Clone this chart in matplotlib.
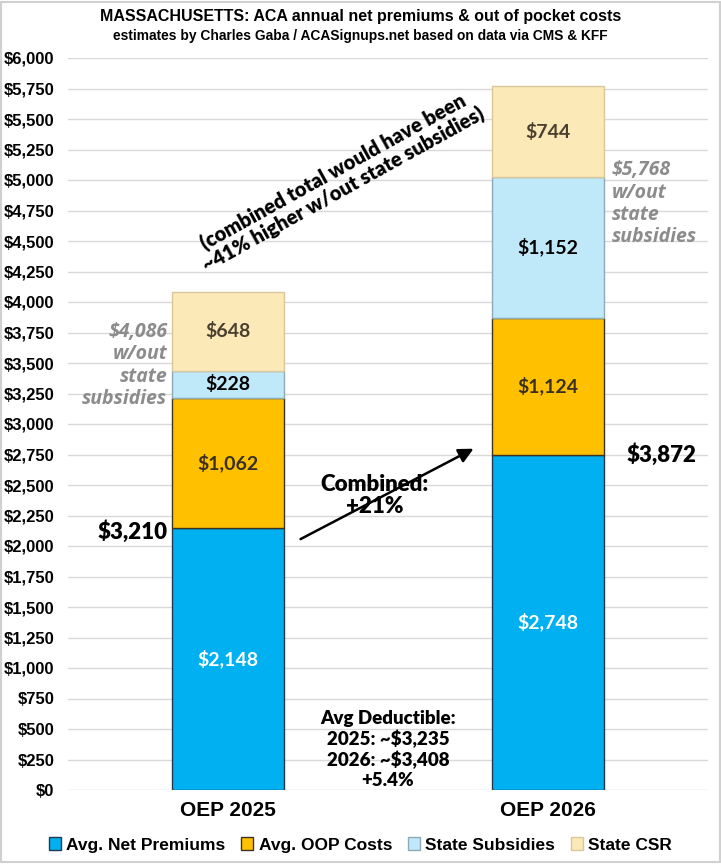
import numpy as np
import matplotlib.pyplot as plt
from matplotlib.patches import Patch
from matplotlib.ticker import FuncFormatter, MultipleLocator
from matplotlib import font_manager

periods = ['OEP 2025', 'OEP 2026']
net_premiums = [2148, 2748]
oop_costs = [1062, 1124]
state_subsidies = [228, 1152]
state_csr = [648, 744]
combined = [3210, 3872]
without_state = [4086, 5768]
series_names = ['Avg. Net Premiums', 'Avg. OOP Costs', 'State Subsidies', 'State CSR']

names = {f.name for f in font_manager.fontManager.ttflist}
narrow = 'Liberation Sans Narrow' if 'Liberation Sans Narrow' in names else 'Liberation Sans'
label_font = 'Lato'
note_font = 'Lato'

fig = plt.figure(figsize=(7.21, 8.64), dpi=100)
ax = fig.add_axes([68/721, 1-790/864, 640/721, 732/864])

x = np.arange(len(periods))
w = 0.353
colors = ['#00B0F0', '#FFC000', '#BFE8F9', '#FCE9B8']
edges = ['#1F3B4D', '#3D3320', '#8FA9B5', '#D8C79A']
bottom = np.zeros(2)
stacks = [net_premiums, oop_costs, state_subsidies, state_csr]
txtcol = ['white', '#3A3020', 'black', '#4A4030']
for vals, c, ec, tc in zip(stacks, colors, edges, txtcol):
    vals = np.array(vals, dtype=float)
    ax.bar(x, vals, w, bottom=bottom, color=c, edgecolor=ec, linewidth=1, zorder=3)
    for xi, b, v in zip(x, bottom, vals):
        ax.text(xi, b + v/2, f'${v:,.0f}', ha='center', va='center', color=tc,
                fontsize=14, fontweight='bold', family=label_font, zorder=4)
    bottom += vals

ax.set_xlim(-0.5, 1.5)
ax.set_ylim(0, 6000)
ax.yaxis.set_major_locator(MultipleLocator(250))
ax.yaxis.set_major_formatter(FuncFormatter(lambda v, p: f'${v:,.0f}'))
ax.grid(axis='y', color='#D9D9D9', linewidth=1, zorder=0)
for s in ax.spines.values():
    s.set_visible(False)
ax.tick_params(length=0)
ax.tick_params(axis='y', pad=10)
ax.tick_params(axis='x', pad=8)
ax.set_xticks(x)
ax.set_xticklabels(periods, fontsize=15, fontweight='bold', family=narrow)
for t in ax.get_yticklabels():
    t.set_fontsize(12)
    t.set_fontweight('bold')
    t.set_family(narrow)

# combined totals
ax.text(-0.19, 2120, f'${combined[0]:,}', ha='right', va='center',
        fontsize=16, fontweight='heavy', family=note_font)
ax.text(1.245, 2748, f'${combined[1]:,}', ha='left', va='center',
        fontsize=16, fontweight='heavy', family=note_font)

ax.annotate('', xy=(0.775, 2808), xytext=(0.219, 2046),
            arrowprops=dict(arrowstyle='-|>', color='black', lw=1.8, mutation_scale=22), zorder=5)
ax.text(0.459, 2415, 'Combined:\n+21%', ha='center', va='center', fontsize=16,
        fontweight='heavy', family=note_font, linespacing=1.1, zorder=6)

ax.text(0.5, 335, 'Avg Deductible:\n2025: ~\\$3,235\n2026: ~\\$3,408\n+5.4%', ha='center', va='center',
        fontsize=13.5, fontweight='heavy', family=note_font, linespacing=1.18, zorder=6)

gray_kw = dict(fontsize=14, fontweight='bold', style='italic', color='#8C8C8C',
               family='Open Sans', linespacing=1.15)
ax.text(-0.19, 3480, f'${without_state[0]:,}\nw/out\nstate\nsubsidies', ha='right', va='center', **gray_kw)
ax.text(1.2, 4805, f'${without_state[1]:,}\nw/out\nstate\nsubsidies', ha='left', va='center', **gray_kw)

ax.text(0.345, 4990, '(combined total would have been\n~41% higher w/out state subsidies)',
        ha='center', va='center', rotation=29, rotation_mode='anchor', fontsize=14.5,
        fontweight='heavy', family=note_font, linespacing=1.0)

fig.text(0.5, 1-17/864, 'MASSACHUSETTS: ACA annual net premiums & out of pocket costs',
         ha='center', va='center', fontsize=11.5, fontweight='bold', family=narrow)
fig.text(0.5, 1-36/864, 'estimates by Charles Gaba / ACASignups.net based on data via CMS & KFF',
         ha='center', va='center', fontsize=9.9, fontweight='bold', family=narrow)

handles = [Patch(facecolor=c, edgecolor=ec) for c, ec in zip(colors, edges)]
fig.legend(handles, series_names, loc='center', bbox_to_anchor=(0.5, 1-845/864), ncol=4,
           frameon=False, handlelength=0.7, handleheight=0.7, handletextpad=0.3, columnspacing=0.9,
           prop={'family': narrow, 'weight': 'bold', 'size': 12.5})

fig.patches.append(plt.Rectangle((0.002, 0.002), 0.996, 0.996, transform=fig.transFigure,
                                 fill=False, edgecolor='#D0D0D0', linewidth=1.5))
fig.savefig('out.png', dpi=100)
